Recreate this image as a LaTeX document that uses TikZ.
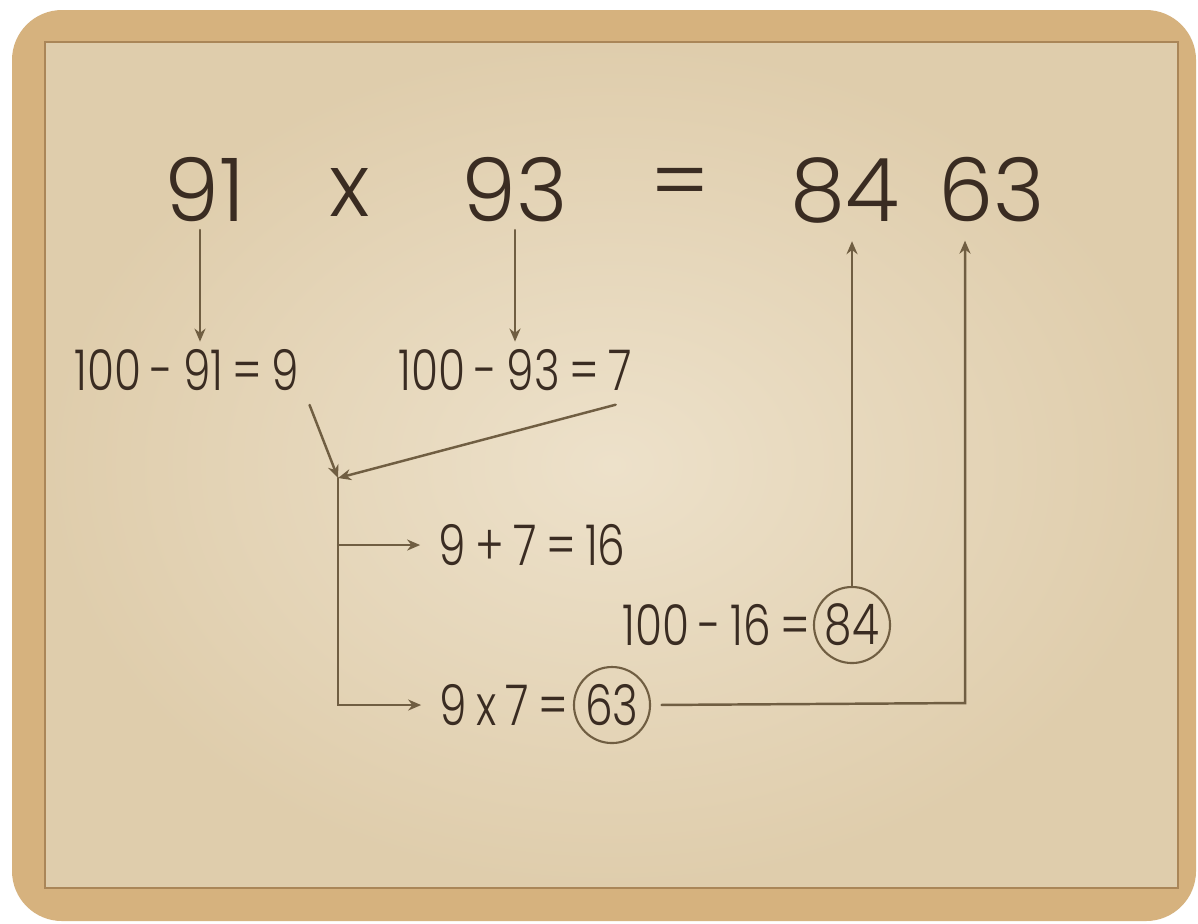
\documentclass[tikz,border=0pt]{standalone}
\usepackage{fontspec}
\setmainfont{Poppins}[UprightFont=* Light,Numbers=Proportional]
\newfontfamily\narrowhand{Poppins}[UprightFont=* Light,Numbers=Proportional,FakeStretch=0.78]
\usetikzlibrary{arrows.meta}
\definecolor{cork}{RGB}{214,178,126}
\definecolor{paperlight}{RGB}{237,225,202}
\definecolor{paperdark}{RGB}{223,205,172}
\definecolor{paperedge}{RGB}{170,134,88}
\definecolor{inkc}{RGB}{58,44,34}
\definecolor{wirec}{RGB}{112,94,66}

\begin{document}
\begin{tikzpicture}[x=0.01cm,y=-0.01cm,>={Stealth[length=1.3mm,width=1.1mm]},line cap=round,
  ink/.style={text=inkc,inner sep=2pt},
  big/.style={ink,font=\fontsize{25}{30}\selectfont},
  small/.style={ink,font=\narrowhand\fontsize{16}{19}\selectfont},
  ring/.style={small,circle,draw=wirec,line width=0.6pt,minimum size=0.76cm,inner sep=0pt},
  wire/.style={draw=wirec,line width=0.7pt}]
\fill[white] (0,0) rectangle (1198,923);
\fill[cork,rounded corners=0.5cm] (12,10) rectangle (1196,921);
\shade[inner color=paperlight,outer color=paperdark] (45,42) rectangle (1178,888);
\draw[paperedge,line width=0.8pt] (45,42) rectangle (1178,888);
\node[big] (n91) at (205,190) {91};
\node[big] (times) at (350,192) {x};
\node[big] (n93) at (515,190) {93};
\node[big] (eq) at (680,190) {=};
\node[big] (p84) at (845,190) {84};
\node[big] (p63) at (992,190) {63};
\node[small] (d91) at (187,370) {100\,-\,91\,=\,9};
\node[small] (d93) at (515,370) {100\,-\,93\,=\,7};
\node[small] (sum) at (532,545) {9\,+\,7\,=\,16};
\node[small,anchor=east] (m16) at (818,625) {100\,-\,16\,=};
\node[ring] (c84) at (852,625) {84};
\node[small,anchor=east] (prod) at (576,705) {9\,x\,7\,=};
\node[ring] (c63) at (612,705) {63};
\coordinate (join) at (338,478);
\coordinate (up63) at (965,703);
\draw[wire,->] (n91.south -| 200,0) -- (200,0 |- d91.north);
\draw[wire,->] (n93.south) -- (d93.north);
\draw[wire,->,shorten <=2pt] (d91.south east) -- (join);
\draw[wire,->,shorten <=7pt] (d93.south east) -- (join);
\draw[wire,->,shorten >=3pt] (join) -- (join |- prod.west) -- (prod.west);
\draw[wire,->,shorten >=3pt] (join |- sum.west) -- (sum.west);
\draw[wire,->,shorten <=3pt,shorten >=3pt] (c63.east) -- (up63) -- (up63 |- p63.south);
\draw[wire,->,shorten >=3pt] (c84.north) -- (c84.north |- p84.south);
\end{tikzpicture}
\end{document}
